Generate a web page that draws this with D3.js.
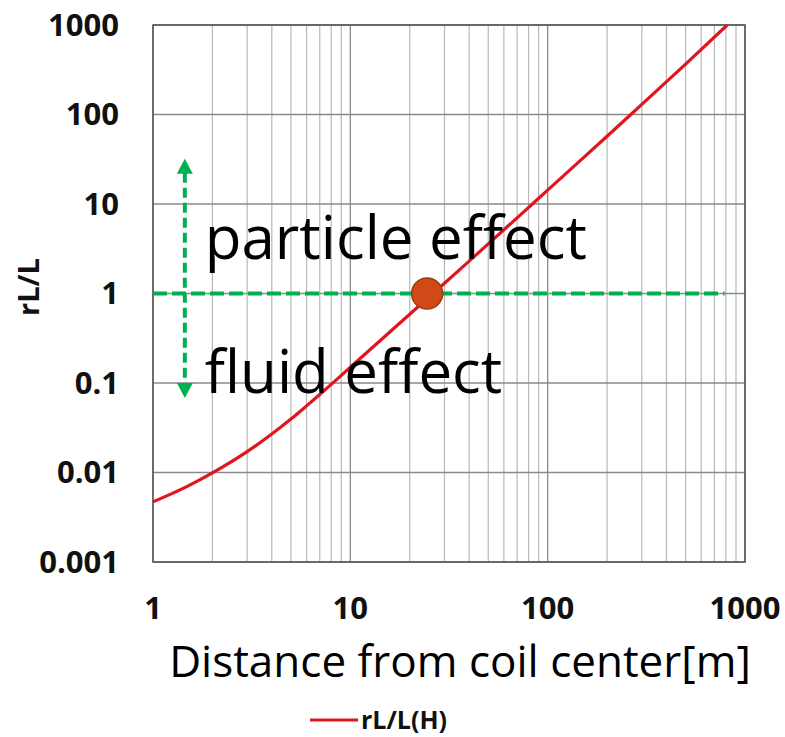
<!DOCTYPE html>
<html>
<head>
<meta charset="utf-8">
<script src="https://cdn.jsdelivr.net/npm/d3@7"></script>
<style>
  body { margin: 0; background: #fff; }
  text { font-family: "Open Sans", "Noto Sans", sans-serif; }
</style>
</head>
<body>
<script>
// distance from coil center [m] and rL/L values
var distance = [1, 1.5, 2, 3, 4, 5, 6, 7, 8, 10, 15, 20, 25, 30, 40, 50, 70, 100, 150, 200, 300, 500, 813];
var ratio    = [0.0047, 0.00705, 0.0099, 0.0171, 0.0269, 0.0395, 0.0555, 0.0745, 0.0966, 0.150, 0.333, 0.587, 0.91, 1.30, 2.30, 3.58, 7.0, 14.3, 32.1, 57.1, 129.7, 366, 1000];

var xTicks = [1, 10, 100, 1000];
var yTicks = [0.001, 0.01, 0.1, 1, 10, 100, 1000];
var xTickLabels = ["1", "10", "100", "1000"];
var yTickLabels = ["0.001", "0.01", "0.1", "1", "10", "100", "1000"];

var seriesName = "rL/L(H)";
var xTitle = "Distance from coil center[m]";
var yTitle = "rL/L";

// annotation values (data units)
var thresholdY = 1;
var thresholdXEnd = 787;
var markerPoint = [24.5, 1];
var arrowX = 1.45;
var arrowRange = [0.068, 32];
var labelParticle = ["particle effect", 1.83, 2.45];
var labelFluid = ["fluid effect", 1.83, 0.077];

var width = 785, height = 737;
var plotLeft = 153, plotRight = 745, plotTop = 25, plotBottom = 562;

var svg = d3.select("body").append("svg")
    .attr("width", width)
    .attr("height", height);

var x = d3.scaleLog().domain([1, 1000]).range([plotLeft, plotRight]);
var y = d3.scaleLog().domain([0.001, 1000]).range([plotBottom, plotTop]);

// minor vertical gridlines
var minorX = [];
[1, 10, 100].forEach(function(d) {
    for (var k = 2; k <= 9; k++) minorX.push(d * k);
});

svg.append("g").selectAll("line")
    .data(minorX)
    .enter().append("line")
    .attr("x1", function(d) { return x(d); })
    .attr("x2", function(d) { return x(d); })
    .attr("y1", plotTop)
    .attr("y2", plotBottom)
    .style("stroke", "#b8b8b8")
    .style("stroke-width", 1.2);

// major gridlines
svg.append("g").selectAll("line")
    .data(xTicks)
    .enter().append("line")
    .attr("x1", function(d) { return x(d); })
    .attr("x2", function(d) { return x(d); })
    .attr("y1", plotTop)
    .attr("y2", plotBottom)
    .style("stroke", "#8a8a8a")
    .style("stroke-width", 1.3);

svg.append("g").selectAll("line")
    .data(yTicks)
    .enter().append("line")
    .attr("x1", plotLeft)
    .attr("x2", plotRight)
    .attr("y1", function(d) { return y(d); })
    .attr("y2", function(d) { return y(d); })
    .style("stroke", "#8a8a8a")
    .style("stroke-width", 1.3);

// plot border
svg.append("rect")
    .attr("x", plotLeft)
    .attr("y", plotTop)
    .attr("width", plotRight - plotLeft)
    .attr("height", plotBottom - plotTop)
    .style("fill", "none")
    .style("stroke", "#555")
    .style("stroke-width", 1.5);

// tick labels
svg.append("g").selectAll("text")
    .data(yTicks)
    .enter().append("text")
    .attr("x", 119)
    .attr("y", function(d) { return y(d); })
    .attr("dy", "0.35em")
    .attr("text-anchor", "end")
    .style("font-size", "31px")
    .style("font-weight", "bold")
    .style("fill", "#111")
    .text(function(d, i) { return yTickLabels[i]; });

svg.append("g").selectAll("text")
    .data(xTicks)
    .enter().append("text")
    .attr("x", function(d) { return x(d); })
    .attr("y", 619)
    .attr("text-anchor", "middle")
    .style("font-size", "31px")
    .style("font-weight", "bold")
    .style("fill", "#111")
    .text(function(d, i) { return xTickLabels[i]; });

// axis titles
svg.append("text")
    .attr("x", 460)
    .attr("y", 677)
    .attr("text-anchor", "middle")
    .style("font-size", "44px")
    .style("fill", "#000")
    .text(xTitle);

svg.append("text")
    .attr("transform", "translate(39,287) rotate(-90)")
    .attr("text-anchor", "middle")
    .style("font-size", "29px")
    .style("font-weight", "bold")
    .style("fill", "#111")
    .text(yTitle);

// curve
var line = d3.line()
    .x(function(d, i) { return x(distance[i]); })
    .y(function(d) { return y(d); })
    .curve(d3.curveMonotoneX);

svg.append("path")
    .datum(ratio)
    .attr("d", line)
    .style("fill", "none")
    .style("stroke", "#e0161e")
    .style("stroke-width", 3.2);

// annotation: threshold line and arrow
var green = "#00b050";
svg.append("line")
    .attr("x1", x(1))
    .attr("x2", x(thresholdXEnd))
    .attr("y1", y(thresholdY))
    .attr("y2", y(thresholdY))
    .style("stroke", green)
    .style("stroke-width", 4)
    .style("stroke-dasharray", "14,5");

var ax = x(arrowX);
var aTop = y(arrowRange[1]);
var aBot = y(arrowRange[0]);

svg.append("line")
    .attr("x1", ax)
    .attr("x2", ax)
    .attr("y1", aTop + 14)
    .attr("y2", aBot - 14)
    .style("stroke", green)
    .style("stroke-width", 4)
    .style("stroke-dasharray", "10,5");

svg.append("path")
    .attr("d", "M" + ax + "," + aTop + "L" + (ax - 8) + "," + (aTop + 15) + "L" + (ax + 8) + "," + (aTop + 15) + "Z")
    .style("fill", green);
svg.append("path")
    .attr("d", "M" + ax + "," + aBot + "L" + (ax - 8) + "," + (aBot - 15) + "L" + (ax + 8) + "," + (aBot - 15) + "Z")
    .style("fill", green);

// marker dot
svg.append("circle")
    .attr("cx", x(markerPoint[0]))
    .attr("cy", y(markerPoint[1]))
    .attr("r", 15.5)
    .style("fill", "#d04a17")
    .style("stroke", "#9e3a12")
    .style("stroke-width", 1.5);

// labels
[labelParticle, labelFluid].forEach(function(l) {
    svg.append("text")
        .attr("x", x(l[1]))
        .attr("y", y(l[2]))
        .style("font-size", "60px")
        .style("fill", "#000")
        .text(l[0]);
});

// legend
svg.append("line")
    .attr("x1", 310)
    .attr("x2", 358)
    .attr("y1", 720)
    .attr("y2", 720)
    .style("stroke", "#e0161e")
    .style("stroke-width", 3);

svg.append("text")
    .attr("x", 361)
    .attr("y", 720)
    .attr("dy", "0.35em")
    .style("font-size", "25px")
    .style("font-weight", "bold")
    .style("fill", "#111")
    .text(seriesName);
</script>
</body>
</html>
